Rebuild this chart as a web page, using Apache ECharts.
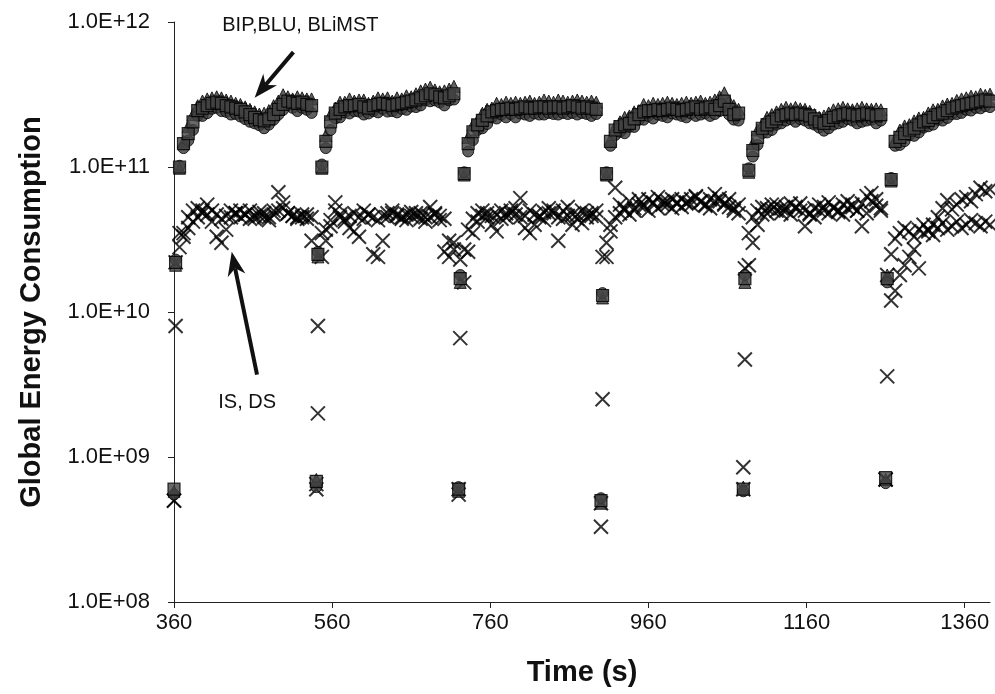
<!DOCTYPE html>
<html>
<head>
<meta charset="utf-8">
<script src="https://cdn.jsdelivr.net/npm/echarts@6/dist/echarts.min.js"></script>
<style>
html, body { margin: 0; padding: 0; background: #fff; }
#box { width: 995px; height: 694px; }
</style>
</head>
<body>
<div id="box"></div>
<script>
// seconds from the start of each cycle
var offsets = [0, 2, 7, 12, 18, 24, 30, 36, 42, 48, 54, 60, 66, 72, 78, 84, 90, 96, 102, 108, 114, 120, 126, 132, 138, 144, 150, 156, 162, 168, 174];
var cycleStarts = [360, 540, 720, 900, 1080, 1260];
var cycleLens = [31, 31, 31, 31, 31, 24];
var xTicks = [360, 560, 760, 960, 1160, 1360];

// energy, in units of 1e9
var bip = [
    0.6, 22, 100, 145, 170, 205, 245, 255, 265, 275, 280, 275, 265, 260, 255, 250, 240, 230, 220, 212, 208, 215, 230, 250, 270, 285, 280, 275, 280, 270, 265,
    0.68, 25, 100, 150, 205, 235, 250, 260, 265, 265, 270, 260, 255, 265, 270, 275, 270, 265, 270, 275, 280, 285, 290, 300, 310, 320, 315, 305, 300, 310, 320,
    0.6, 17, 90, 145, 175, 195, 210, 225, 240, 245, 250, 250, 255, 250, 255, 260, 255, 255, 260, 260, 255, 260, 260, 255, 260, 265, 260, 255, 260, 255, 250,
    0.5, 13, 90, 150, 180, 190, 195, 200, 215, 230, 240, 245, 245, 250, 245, 250, 255, 250, 245, 250, 255, 260, 250, 255, 260, 250, 265, 285, 250, 230, 235,
    0.6, 17, 95, 130, 160, 185, 195, 205, 215, 225, 230, 235, 230, 235, 230, 225, 215, 205, 200, 210, 220, 225, 230, 235, 230, 225, 230, 235, 230, 225, 230,
    0.72, 17, 82, 150, 160, 170, 180, 185, 195, 205, 210, 220, 230, 235, 245, 255, 260, 265, 270, 275, 280, 285, 290, 285
];
var blu = [
    0.58, 21, 98, 150, 190, 230, 265, 285, 295, 300, 305, 300, 290, 285, 275, 270, 260, 250, 240, 232, 235, 245, 265, 285, 315, 305, 295, 305, 300, 295, 295,
    0.7, 24, 98, 165, 230, 255, 280, 280, 295, 285, 290, 290, 275, 285, 300, 295, 300, 285, 300, 295, 310, 305, 320, 335, 345, 355, 340, 330, 335, 345, 360,
    0.58, 16, 88, 160, 195, 210, 235, 250, 255, 275, 270, 280, 275, 280, 275, 280, 285, 275, 280, 290, 285, 280, 290, 285, 280, 285, 290, 285, 280, 285, 280,
    0.48, 12.5, 88, 155, 190, 205, 220, 225, 240, 245, 270, 265, 275, 270, 275, 280, 275, 270, 275, 280, 275, 280, 285, 275, 280, 290, 305, 325, 285, 265, 250,
    0.62, 16, 92, 145, 180, 198, 220, 230, 240, 250, 258, 252, 258, 252, 250, 242, 230, 220, 225, 236, 248, 252, 258, 252, 248, 252, 258, 252, 250, 252, 248,
    0.7, 18, 80, 155, 180, 192, 196, 208, 218, 220, 236, 248, 250, 264, 272, 275, 288, 295, 300, 308, 305, 318, 312, 318
];
var blimst = [
    0.55, 23, 102, 135, 152, 180, 225, 225, 235, 252, 256, 243, 240, 230, 232, 223, 214, 205, 200, 194, 185, 196, 212, 230, 248, 270, 256, 243, 256, 248, 236,
    0.62, 26, 104, 135, 180, 216, 220, 238, 234, 243, 241, 230, 234, 243, 238, 252, 241, 243, 238, 252, 248, 261, 259, 266, 288, 284, 288, 279, 266, 288, 292,
    0.62, 18, 92, 128, 153, 180, 185, 198, 220, 216, 230, 220, 232, 220, 234, 230, 225, 234, 230, 230, 236, 232, 230, 236, 232, 236, 230, 236, 232, 225, 232,
    0.52, 13.5, 92, 140, 166, 175, 171, 189, 189, 212, 212, 225, 216, 230, 225, 220, 234, 230, 225, 220, 234, 225, 230, 234, 225, 232, 243, 261, 230, 212, 209,
    0.58, 18, 98, 118, 142, 171, 173, 180, 196, 200, 209, 214, 205, 214, 209, 200, 196, 187, 178, 185, 196, 200, 205, 214, 209, 200, 205, 209, 212, 200, 209,
    0.66, 16, 84, 140, 142, 151, 166, 164, 173, 187, 191, 196, 212, 209, 218, 232, 232, 236, 248, 245, 256, 254, 263, 259
];
var is = [
    0.5, 8, 28, 35, 45, 50, 52, 48, 55, 50, 47, 44, 46, 50, 48, 45, 47, 50, 44, 46, 48, 45, 50, 67, 57, 48, 46, 45, 47, 44, 45,
    0.65, 8, 24, 37, 39, 57, 45, 42, 46, 48, 33, 44, 47, 25, 24, 31, 45, 48, 46, 44, 47, 49, 46, 48, 45, 53, 48, 46, 44, 31, 30,
    0.55, 6.6, 16, 26, 35, 42, 50, 48, 46, 47, 50, 45, 48, 52, 61, 46, 50, 47, 45, 43, 48, 50, 31, 44, 46, 40, 47, 50, 48, 46, 45,
    0.33, 2.5, 24, 40, 72, 55, 50, 58, 52, 60, 55, 50, 57, 62, 55, 58, 52, 56, 60, 57, 55, 62, 58, 54, 60, 65, 58, 55, 60, 52, 48,
    0.85, 4.7, 21, 30, 40, 47, 52, 55, 50, 48, 53, 56, 52, 50, 39, 47, 52, 55, 50, 48, 53, 50, 47, 52, 55, 50, 39, 48, 66, 60, 52,
    0.7, 3.6, 12, 14, 18, 21, 24, 27, 20, 35, 37, 40, 45, 52, 59, 51, 55, 60, 62, 58, 65, 72, 68, 70
];
var ds = [
    0.5, 22, 35, 33, 38, 42, 45, 50, 47, 42, 33, 30, 37, 45, 48, 50, 47, 44, 46, 49, 45, 43, 47, 50, 52, 48, 46, 44, 45, 47, 31,
    0.6, 2.0, 35, 31, 43, 50, 47, 44, 38, 36, 45, 50, 47, 45, 43, 46, 48, 50, 47, 45, 43, 46, 48, 44, 42, 45, 47, 43, 26, 24, 27,
    0.6, 23, 27, 37, 44, 48, 46, 45, 40, 36, 44, 48, 50, 47, 45, 38, 35, 40, 46, 49, 52, 48, 45, 50, 53, 47, 44, 41, 45, 48, 50,
    0.48, 24, 30, 36, 45, 48, 52, 47, 50, 55, 53, 60, 56, 52, 58, 55, 60, 57, 53, 56, 60, 63, 57, 55, 52, 58, 61, 56, 53, 50, 55,
    0.6, 20, 35, 45, 50, 53, 48, 51, 55, 52, 50, 47, 53, 56, 50, 48, 45, 50, 53, 57, 52, 49, 55, 58, 53, 50, 56, 63, 58, 54, 50,
    0.7, 18, 25, 32, 35, 38, 36, 33, 37, 40, 36, 34, 38, 41, 37, 39, 42, 38, 40, 43, 41, 39, 42, 40
];

// annotation anchors: [time, energy]
var bipTail = [511, 6.2e11], bipTip = [462, 3.0e11];
var isTail = [465, 3.7e9], isTip = [433, 2.6e10];
var bipLabel = [421, 9.5e11], isLabel = [416, 2.36e9];

function toPoints(vals) {
    var out = [], k = 0;
    for (var c = 0; c < cycleStarts.length; c++) {
        for (var i = 0; i < cycleLens[c]; i++) {
            out.push([cycleStarts[c] + offsets[i], vals[k] * 1e9]);
            k++;
        }
    }
    return out;
}

var cross = 'path://M0,0L10,10M10,0L0,10';
var font = 'Liberation Sans';

var myChart = echarts.init(document.getElementById('box'));
var option = {
    backgroundColor: '#fff',
    animation: false,
    grid: {left: 174, right: 5, top: 22, bottom: 92},
    xAxis: {
        type: 'value', min: 360, max: 1392,
        name: 'Time (s)', nameLocation: 'middle', nameGap: 56,
        nameTextStyle: {fontFamily: font, fontSize: 29, fontWeight: 'bold', color: '#111'},
        axisLine: {lineStyle: {color: '#222', width: 1}},
        axisTick: {show: true, length: 6, lineStyle: {color: '#222'}, customValues: xTicks},
        axisLabel: {
            customValues: xTicks, fontFamily: font, fontSize: 22, color: '#111', margin: 10,
            formatter: function (v) { return String(v); }
        },
        splitLine: {show: false}
    },
    yAxis: {
        type: 'log', logBase: 10, min: 1e8, max: 1e12,
        name: 'Global Energy Consumption', nameLocation: 'middle', nameGap: 128, nameRotate: 90,
        nameTextStyle: {fontFamily: font, fontSize: 29, fontWeight: 'bold', color: '#111'},
        axisLine: {show: true, lineStyle: {color: '#222', width: 1}},
        axisTick: {show: true, length: 6, lineStyle: {color: '#222'}},
        minorTick: {show: false},
        axisLabel: {
            fontFamily: font, fontSize: 22, color: '#111', margin: 24,
            formatter: function (v) {
                var e = Math.round(Math.log10(v));
                return '1.0E+' + (e < 10 ? '0' : '') + e;
            }
        },
        splitLine: {show: false}
    },
    series: [
        {name: 'IS', type: 'scatter', data: toPoints(is), symbol: cross, symbolSize: 14,
            itemStyle: {color: 'rgba(0,0,0,0)', borderColor: '#000', borderWidth: 2}, z: 2},
        {name: 'DS', type: 'scatter', data: toPoints(ds), symbol: cross, symbolSize: 14,
            itemStyle: {color: 'rgba(0,0,0,0)', borderColor: '#000', borderWidth: 2}, z: 2},
        {name: 'BLU', type: 'scatter', data: toPoints(blu), symbol: 'triangle', symbolSize: 12,
            itemStyle: {color: '#3a3a3a', borderColor: '#000', borderWidth: 1}, z: 3},
        {name: 'BLiMST', type: 'scatter', data: toPoints(blimst), symbol: 'circle', symbolSize: 11,
            itemStyle: {color: '#3a3a3a', borderColor: '#000', borderWidth: 1}, z: 3},
        {name: 'BIP', type: 'scatter', data: toPoints(bip), symbol: 'rect', symbolSize: 12,
            itemStyle: {color: '#444', borderColor: '#000', borderWidth: 1.2}, z: 4}
    ]
};
myChart.setOption(option);

// arrows and labels from data anchors
function px(pt) { return myChart.convertToPixel({gridIndex: 0}, pt); }
function arrow(tail, tip) {
    var a = px(tail), b = px(tip);
    var dx = b[0] - a[0], dy = b[1] - a[1], len = Math.sqrt(dx * dx + dy * dy);
    var ux = dx / len, uy = dy / len, nx = -uy, ny = ux;
    var hl = 24, hw = 9;
    var bx = b[0] - ux * hl, by = b[1] - uy * hl;
    var mx = b[0] - ux * hl * 0.7, my = b[1] - uy * hl * 0.7;
    return [
        {type: 'line', shape: {x1: a[0], y1: a[1], x2: mx, y2: my}, style: {stroke: '#111', lineWidth: 4}, z: 10},
        {type: 'polygon', shape: {points: [b, [bx + nx * hw, by + ny * hw], [mx, my], [bx - nx * hw, by - ny * hw]]},
            style: {fill: '#111'}, z: 10}
    ];
}
function label(pt, text) {
    var p = px(pt);
    return {type: 'text', x: p[0], y: p[1], z: 10,
        style: {text: text, font: '20px "Liberation Sans"', fill: '#111', verticalAlign: 'middle'}};
}
myChart.setOption({
    graphic: arrow(bipTail, bipTip).concat(arrow(isTail, isTip), [label(bipLabel, 'BIP,BLU, BLiMST'), label(isLabel, 'IS, DS')])
});

window.addEventListener('resize', function () {
    myChart.resize();
});
</script>
</body>
</html>
